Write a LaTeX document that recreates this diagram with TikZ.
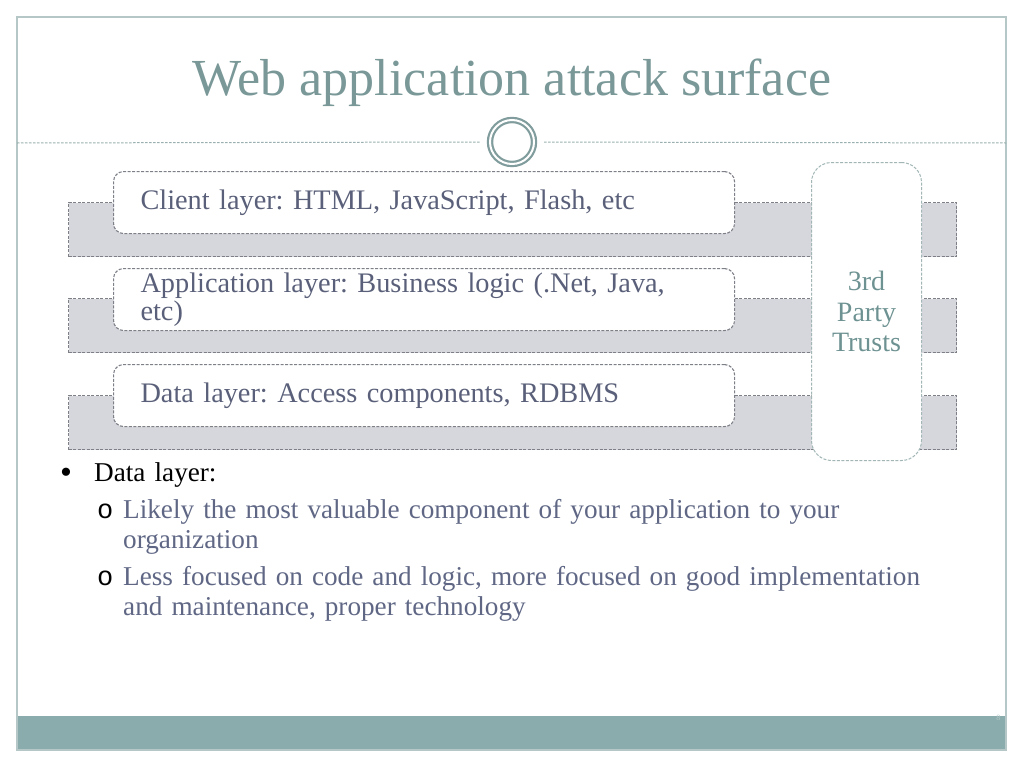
\documentclass[tikz,border=0pt]{standalone}
\usepackage{fontspec}
\setmainfont{Liberation Serif}
\newfontfamily\bulletmono{Liberation Mono}
\usetikzlibrary{positioning,calc}

\definecolor{titleteal}{HTML}{7A9898}
\definecolor{frameteal}{HTML}{B5C7C7}
\definecolor{barteal}{HTML}{8AACAC}
\definecolor{ringteal}{HTML}{809C9C}
\definecolor{layertext}{HTML}{5A6079}
\definecolor{bandfill}{HTML}{D6D7DD}
\definecolor{bandline}{HTML}{7E8088}
\definecolor{partyline}{HTML}{A2B6B6}
\definecolor{partytext}{HTML}{6E9292}
\definecolor{subtext}{HTML}{5F6785}

\begin{document}
\frenchspacing
\begin{tikzpicture}[
x=1pt, y=-1pt,
band/.style={draw=bandline, line width=1.1pt, dash pattern=on 3pt off 1.5pt, fill=bandfill, minimum width=888pt, minimum height=54pt, anchor=north west, inner sep=0pt},
layer/.style={draw=bandline, line width=1.1pt, dash pattern=on 3pt off 1.5pt, fill=white, rounded corners=10pt, minimum height=62pt, text width=567pt, inner xsep=27pt, inner ysep=0pt, anchor=north west, align=left, text=layertext, font=\fontsize{28.3}{28}\selectfont},
party/.style={draw=partyline, line width=1pt, dash pattern=on 3pt off 1.5pt, fill=white, rounded corners=20pt, minimum width=110pt, minimum height=298pt, anchor=north west, align=center, text=partytext, font=\fontsize{28}{30.5}\selectfont},
item/.style={anchor=base west, inner sep=0pt, text width=860pt, align=left, font=\fontsize{27.2}{30}\selectfont},
bulletmark/.style={anchor=base west, inner sep=0pt}
]
\useasboundingbox (0,0) rectangle (1024,768);

% Slide frame and footer bar
\fill[white] (0,0) rectangle (1024,768);
\fill[barteal] (17,716) rectangle (1006,750);
\draw[frameteal, line width=1.2pt] (17,17) rectangle (1006,750);

% Title and rule
\node[anchor=base, text=titleteal, font=\fontsize{52}{54}\selectfont] (title) at (512,95) {Web application attack surface};
\node[circle, draw=ringteal, line width=2.2pt, double=white, double distance=2pt, minimum size=44pt, inner sep=0pt, fill=white] (ring) at (512,142) {};
\coordinate (ruleL) at (17,143);
\coordinate (ruleR) at (1006,143);
\draw[ringteal!80, line width=1pt, dash pattern=on 2.5pt off 1.5pt] (ruleL) -- ($(ring.west)+(-9,0)$);
\draw[ringteal!80, line width=1pt, dash pattern=on 2.5pt off 1.5pt] ($(ring.east)+(9,0)$) -- (ruleR);

% Layer bands
\node[band] (clientband) at (68,202) {};
\node[band] (appband) at (68,298) {};
\node[band] (databand) at (68,395) {};

% Layer boxes
\node[layer] (client) at (113,171) {Client layer: HTML, JavaScript, Flash, etc};
\node[layer] (app) at (113,268) {Application layer: Business logic (.Net, Java,\\etc)};
\node[layer] (data) at (113,364) {Data layer: Access components, RDBMS};

% Third party column
\node[party] (trusts) at (811,162) {3rd\\Party\\Trusts};

% Bullets
\node[bulletmark, font=\fontsize{34}{36}\selectfont] (dot) at (60,483) {•};
\node[item, text=black] (datalayer) at (94,481) {Data layer:};
\node[bulletmark, font=\bulletmono\fontsize{27}{28}\selectfont] (subone) at (97,518) {o};
\node[item, text=subtext] (valuable) at (123,518) {Likely the most valuable component of your application to your\\organization};
\node[bulletmark, font=\bulletmono\fontsize{27}{28}\selectfont] (subtwo) at (97,585) {o};
\node[item, text=subtext] (focused) at (123,585) {Less focused on code and logic, more focused on good implementation\\and maintenance, proper technology};

% Slide number
\node[text=frameteal, font=\fontsize{8}{9}\selectfont, anchor=north east] (pagenum) at (1004,712) {8};

\end{tikzpicture}
\end{document}
